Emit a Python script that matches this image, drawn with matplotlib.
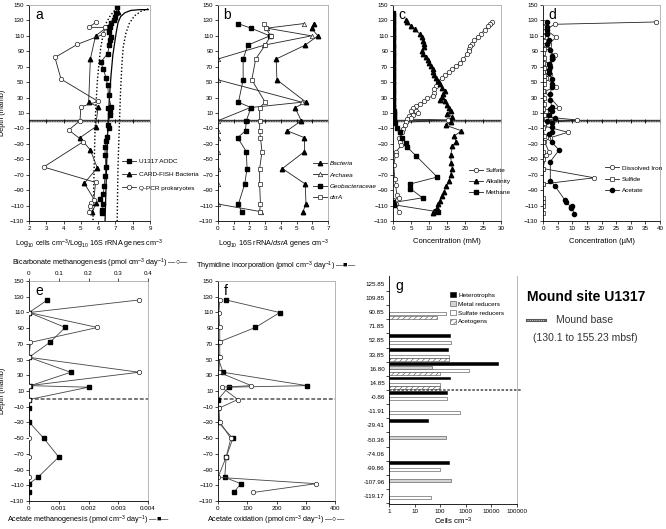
import numpy as np
import matplotlib
matplotlib.use("Agg")
import matplotlib.pyplot as plt
from matplotlib.lines import Line2D

plt.rcParams['font.family'] = ['Liberation Sans', 'DejaVu Sans']
plt.rcParams['mathtext.fontset'] = 'custom'
plt.rcParams['mathtext.rm'] = 'Liberation Sans'
plt.rcParams['mathtext.it'] = 'Liberation Sans:italic'
plt.rcParams['hatch.linewidth'] = 0.4

# ---- panel a : cell counts / 16S genes (log10) vs depth
aodc_x = [7.1, 7.05, 6.95, 6.9, 6.75, 6.7, 6.6, 6.75, 6.7, 6.65, 6.55, 6.15, 6.3, 6.45, 6.55, 6.6, 6.75,
          6.55, 6.7, 6.7, 6.55, 6.6, 6.5, 6.45, 6.4, 6.4, 6.45, 6.4, 6.35, 6.3, 6.1, 6.3, 6.25, 6.2]
aodc_d = [147, 139, 134, 131, 127, 122, 115, 109, 104, 98, 87, 76, 67, 56, 46, 33, 18,
          17, 11, 7, -5, -10, -21, -26, -34, -45, -60, -72, -84, -95, -101, -108, -116, -120]
fish_x = [7.15, 6.95, 6.5, 5.85, 5.55, 5.45, 6.0, 5.85, 4.95, 5.55, 5.95, 5.2, 5.9, 5.65]
fish_d = [141, 134, 121, 110, 80, 24, 18, -8, -22, -38, -61, -81, -107, -118]
qpcr_x = [5.9, 5.45, 6.4, 6.3, 4.8, 3.5, 3.85, 6.0, 5.0, 4.95, 4.3, 5.15, 2.85, 5.85, 5.75, 5.6, 5.55, 5.45]
qpcr_d = [128, 121, 121, 112, 99, 82, 54, 25, 18, 0, -12, -27, -60, -80, -103, -107, -110, -118]
reg_x = [8.9, 8.4, 7.9, 7.55, 7.3, 7.15, 7.05, 6.95, 6.85, 6.75, 6.65, 6.55, 6.5, 6.45, 6.4]
reg_d = [144, 144, 143, 140, 135, 127, 115, 100, 85, 60, 30, -15, -50, -90, -130]
low_x = [7.1, 6.95, 6.7, 6.45, 6.3, 6.15, 6.05, 5.95, 5.85, 5.8, 5.75, 5.7]
low_d = [146, 143, 136, 126, 113, 95, 75, 50, 10, -30, -80, -130]
upp_x = [8.9, 8.5, 8.1, 7.8, 7.6, 7.45, 7.38, 7.3, 7.22, 7.15, 7.1]
upp_d = [145, 142, 136, 126, 113, 95, 75, 40, -10, -60, -130]

# ---- panel b : 16S rRNA / dsrA genes
b_d = [126, 120, 110, 98, 80, 53, 24, 17, 0, -13, -22, -40, -62, -82, -108, -118]
bac_x = [6.1, 5.95, 6.35, 5.55, 3.7, 3.75, 5.6, 4.9, 5.3, 4.4, 5.5, 5.5, 4.1, 5.55, 5.6, 5.4]
arc_x = [5.5, 3.1, 5.95, 2.95, 0, 0, 5.35, 2.05, 0, 0, 0, 0, 0, 0, 0, 2.75]
geo_x = [1.25, 2.1, 3.3, 1.9, 1.6, 1.6, 1.3, 2.1, 1.8, 1.75, 1.25, 1.8, 1.85, 1.7, 1.3, 1.5]
dsr_x = [2.95, 3.05, 3.35, 3.0, 2.4, 2.15, 3.0, 2.65, 2.65, 2.65, 2.7, 2.8, 2.65, 2.65, 2.7, 2.65]

# ---- panel c : porewater (mM)
sulf_x = [27.5, 27, 26.5, 25.5, 24.5, 23.5, 22.5, 22, 21.5, 21, 21, 20.5, 19.5, 18.5, 17.5, 16.5, 15.5,
          14.5, 13.5, 12.5, 12, 11.5, 11.5, 11, 9.5, 8.5, 7.5, 6.5, 5.5, 5, 6.5, 7, 5.5, 4.5, 5, 4,
          15.3, 3.5, 3.3, 2.8, 2.5, 1.6, 1.9, 2.3, 0.9, 0.7, 0.2, 0.5, 0.7, 1.1, 1.6, 0.0, 0.7, 1.6]
sulf_d = [128, 126, 123, 118, 113, 108, 104, 100, 97, 93, 90, 86, 80, 75, 71, 67, 63,
          59, 55, 50, 45, 41, 36, 32, 29, 25, 22, 19, 16, 13, 12, 10, 8, 6, 4, 2,
          1, -2, -5, -11, -15, -23, -27, -32, -40, -44, -58, -75, -83, -96, -100, -103, -108, -118]
alk_x = [3.5, 4.0, 5.0, 6.0, 7.5, 8.0, 8.3, 8.5, 8.5, 8.0, 8.3, 9.2, 9.8, 10.0, 10.5, 11.0, 11.2,
         11.5, 12.0, 12.5, 13.0, 13.5, 14.5, 14.0, 13.5, 13.0, 14.5, 15.0, 15.5, 16.0, 15.0, 16.5,
         16.0, 14.7, 19.0, 17.0, 17.5, 16.5, 16.0, 16.2, 16.5, 16.0, 15.5, 14.8, 14.2, 13.5, 13.0,
         12.5, 12.2, 11.5, 11.0]
alk_d = [130, 128, 123, 119, 112, 108, 103, 99, 95, 91, 87, 83, 79, 75, 71, 67, 63,
         59, 55, 51, 47, 43, 39, 35, 31, 27, 25, 21, 17, 13, 9, 5,
         -2, -6, -13, -20, -27, -33, -45, -55, -62, -70, -78, -85, -92, -98, -104,
         -108, -113, -117, -119]
meth_x = [0.1, 0.05, 0.1, 0.1, 0.05, 0.1, 0.1, 0.05, 0.1, 0.1, 0.05, 0.1, 0.1, 0.1, 0.05, 0.1,
          0.1, 0.05, 0.1, 0.1, 0.05, 0.1, 0.1, 0.05, 0.1, 0.1, 0.05, 0.1, 0.1, 0.1, 0.05, 0.1,
          0.1, 0.05, 0.1, 0.1, 0.05, 0.1, 0.1, 0.05, 0.1, 0.1, 0.15, 0.2, 0.2, 0.25, 0.3,
          0.5, 1.2, 1.9, 2.6, 3.6, 3.9, 6.5, 12.3, 4.8, 4.8, 8.2, 0.1, 0.3, 12.4]
meth_d = [140, 137, 134, 131, 128, 125, 122, 119, 116, 113, 110, 107, 104, 100, 97, 94,
          91, 88, 85, 82, 79, 76, 73, 70, 67, 64, 61, 58, 55, 52, 49, 46,
          43, 40, 37, 34, 31, 28, 25, 22, 19, 16, 13, 10, 7, 4, 1,
          -3, -10, -15, -22, -29, -34, -46, -73, -82, -88, -100, -106, -109, -118]

# ---- panel d : porewater (uM)
iron_x = [38.5, 4, 1, 4.5, 2, 1, 4, 3.5, 2.5, 1.5, 2.5, 1, 4.5, 0.5, 5.5, 1, 0.5, 11.5, 3, 0.5,
          8.5, 2.5, 0.5, 2, 1, 0, 17.5, 0]
iron_d = [128, 125, 118, 108, 100, 95, 85, 81, 72, 65, 60, 55, 44, 38, 17, 12, 5, 1, -2, -7,
          -15, -22, -27, -40, -44, -62, -74, -82]
sulfide_x = [0, 0, 0, 0, 0.5, 2, 0.5, 0, 0.5, 0.5, 1.5, 0.5, 0, 0.5, 0.5, 0.5, 0, 0.5, 0.5, 0,
             0.5, 1, 0.5, 0, 0.5, 0, 0, 0, 0, 0, 0, 0, 0, 0]
sulfide_d = [128, 122, 116, 110, 103, 98, 93, 88, 81, 75, 73, 68, 63, 58, 53, 47, 38, 30, 22, 15,
             7, 2, -3, -10, -20, -28, -40, -50, -62, -82, -100, -105, -110, -120]
acet_x = [1.5, 1.5, 1.5, 1.5, 2, 1.5, 2.5, 3, 3.2, 2, 2.5, 2, 2, 3, 3, 3, 2.5, 2.5, 3, 2.5, 3, 2,
          4, 1.5, 3, 3, 3, 2, 3, 5.5, 2.5, 2.5, 4, 7.5, 8, 9.5, 9.5, 10, 10.5]
acet_d = [128, 122, 117, 113, 105, 100, 92, 84, 80, 74, 70, 66, 62, 54, 48, 44, 35, 27, 18, 15,
          13, 7, 3, 0, -3, -8, -14, -17, -28, -38, -53, -78, -84, -103, -105, -112, -113, -110, -121]

# ---- panels e and f : rates at sample depths
rate_d = [125.85, 109.85, 90.85, 71.85, 52.85, 33.85, 16.80, 14.85, -0.86, -11.91, -29.41,
          -50.36, -74.06, -99.86, -107.96, -119.17]
acmeth = [0.00062, 0.0, 0.00122, 0.0007, 0.0, 0.0014, 0.00005, 0.002, 0.0, 0.0, 0.0,
          0.0005, 0.001, 0.0003, 0.0, 0.0]
bicarb = [0.37, 0.0, 0.23, 0.005, 0.0, 0.37, 0.0, np.nan, 0.0, np.nan, np.nan,
          0.0, 0.0, 0.0, np.nan, np.nan]
thymid = [28, 211, 128, 0, 0, 17, 305, 36, 0, 0, 0, 51, 28, 23, 78, 54]
acox = [6, 3, 6, 6, 6, 3, 114, 12, 68, 3, 6, 44, 28, 0, 335, 120]

# ---- panel g : MPN cultures
g_cats = ['125.85', '109.85', '90.85', '71.85', '52.85', '33.85', '16.80', '14.85', '-0.86',
          '-11.91', '-29.41', '-50.36', '-74.06', '-99.86', '-107.96', '-119.17']
hetero = [np.nan, np.nan, np.nan, np.nan, 240, 210, 18000, 240, 180, np.nan, 32, np.nan, np.nan, 230, np.nan, np.nan]
metal = [np.nan, np.nan, np.nan, np.nan, np.nan, np.nan, 50, np.nan, np.nan, np.nan, np.nan, 170, np.nan, np.nan, 255, np.nan]
sulfred = [np.nan, np.nan, 170, np.nan, 255, 220, 1300, 100, 180, 620, np.nan, np.nan, np.nan, 95, np.nan, 45]
acetog = [np.nan, np.nan, 75, np.nan, np.nan, 220, 95, 100, np.nan, np.nan, np.nan, np.nan, np.nan, np.nan, np.nan, np.nan]

W, H = 666, 529
fig = plt.figure(figsize=(W / 100, H / 100), dpi=100)
LAB = 5.2
TICK = 4.5
LEG = 4.6


def panel(l, t, r, b):
    return fig.add_axes([l / W, 1 - b / H, (r - l) / W, (b - t) / H])


def style(ax, xlim, xticks, letter):
    ax.set_xlim(*xlim)
    ax.set_xticks(xticks)
    ax.set_ylim(-130, 150)
    ax.set_yticks(np.arange(-130, 151, 20))
    ax.tick_params(labelsize=TICK, length=2, width=0.5, pad=1.5)
    for s in ax.spines.values():
        s.set_linewidth(0.6)
    ax.spines['top'].set_color('#aaaaaa')
    ax.spines['right'].set_color('#aaaaaa')
    ax.text(0.05, 0.985, letter, transform=ax.transAxes, va='top', fontsize=10)


def mound(ax, ticks=True):
    ax.axhline(0, color='#3a3a3a', lw=1.7, zorder=1)
    ax.axhline(0, color='#bdbdbd', lw=0.6, ls=(0, (1, 1)), zorder=1.1)
    if ticks:
        xt = ax.get_xticks()
        ax.plot(xt, np.zeros(len(xt)), '|', color='k', ms=3, mew=0.6, zorder=1.2, clip_on=False)


ln = dict(color='#222222', lw=0.6)
leg_kw = dict(loc='upper left', frameon=False, handlelength=2.2, borderaxespad=0, handletextpad=0.4)

# ---------------- a
ax = panel(29, 5, 150, 221)
style(ax, (2, 9), range(2, 10), 'a')
mound(ax)
ax.plot(reg_x, reg_d, color='k', lw=0.9)
ax.plot(low_x, low_d, color='k', lw=1.0, ls=(0, (1, 1.5)))
ax.plot(upp_x, upp_d, color='k', lw=1.0, ls=(0, (1, 1.5)))
h1, = ax.plot(aodc_x, aodc_d, marker='s', ms=2.2, mfc='k', mec='k', **ln)
h2, = ax.plot(fish_x, fish_d, marker='^', ms=3.2, mfc='k', mec='k', **ln)
h3, = ax.plot(qpcr_x, qpcr_d, marker='o', ms=3.2, mfc='white', mec='#222222', mew=0.5, **ln)
ax.legend([h1, h2, h3], ['U1317 AODC', 'CARD-FISH Bacteria', 'Q-PCR prokaryotes'],
          bbox_to_anchor=(0.75, 0.30), fontsize=LEG, labelspacing=1.2, **leg_kw)
ax.set_xlabel('Log$_{10}$ cells cm$^{-3}$/Log$_{10}$ 16S rRNA genes cm$^{-3}$', fontsize=LAB, labelpad=5)
ax.set_ylabel('Depth (mamb)', fontsize=LAB, labelpad=3)

# ---------------- b
ax = panel(218, 5, 328, 221)
style(ax, (0, 7), range(0, 8), 'b')
mound(ax)
h1, = ax.plot(bac_x, b_d, marker='^', ms=3.2, mfc='k', mec='k', **ln)
h2, = ax.plot(arc_x, b_d, marker='^', ms=3.2, mfc='white', mec='#222222', mew=0.5, **ln)
h3, = ax.plot(geo_x, b_d, marker='s', ms=2.2, mfc='k', mec='k', **ln)
h4, = ax.plot(dsr_x, b_d, marker='s', ms=3.2, mfc='white', mec='#222222', mew=0.5, **ln)
ax.legend([h1, h2, h3, h4], ['Bacteria', 'Archaea', 'Geobacteraceae', 'dsrA'],
          bbox_to_anchor=(0.84, 0.29), prop={'size': LEG, 'style': 'italic'},
          labelspacing=0.9, **leg_kw)
ax.set_xlabel('Log$_{10}$ 16S rRNA/$dsrA$ genes cm$^{-3}$', fontsize=LAB, labelpad=5)

# ---------------- c
ax = panel(393, 5, 501, 221)
style(ax, (0, 30), range(0, 31, 5), 'c')
mound(ax)
h1, = ax.plot(sulf_x, sulf_d, marker='o', ms=3.2, mfc='white', mec='#222222', mew=0.5, **ln)
h2, = ax.plot(alk_x, alk_d, marker='^', ms=3.2, mfc='k', mec='k', **ln)
h3, = ax.plot(meth_x, meth_d, marker='s', ms=2.2, mfc='k', mec='k', **ln)
ax.legend([h1, h2, h3], ['Sulfate', 'Alkalinity', 'Methane'],
          bbox_to_anchor=(0.68, 0.26), fontsize=LEG, labelspacing=0.9, **leg_kw)
ax.set_xlabel('Concentration (mM)', fontsize=LAB + 0.3, labelpad=5)

# ---------------- d
ax = panel(543, 5, 660, 221)
style(ax, (0, 40), range(0, 41, 5), 'd')
mound(ax)
h1, = ax.plot(iron_x, iron_d, marker='o', ms=3.2, mfc='white', mec='#222222', mew=0.5, **ln)
h2, = ax.plot(sulfide_x, sulfide_d, marker='s', ms=3.2, mfc='white', mec='#222222', mew=0.5, **ln)
h3, = ax.plot(acet_x, acet_d, marker='o', ms=3.0, mfc='k', mec='k', **ln)
ax.legend([h1, h2, h3], ['Dissolved Iron', 'Sulfide', 'Acetate'],
          bbox_to_anchor=(0.51, 0.27), fontsize=LEG, labelspacing=0.9, **leg_kw)
ax.set_xlabel('Concentration (\u00b5M)', fontsize=LAB + 0.3, labelpad=5)

# ---------------- e
ax = panel(29, 281, 148, 501)
style(ax, (0, 0.004), [0, 0.001, 0.002, 0.003, 0.004], 'e')
ax.set_xticklabels(['0', '0.001', '0.002', '0.003', '0.004'])
ax.axhline(0, color='#777777', lw=1.4, ls=(0, (2, 1)), zorder=1)
ax.plot(acmeth, rate_d, marker='s', ms=2.4, mfc='k', mec='k', color='#444444', lw=0.6)
ax.set_xlabel('Acetate methanogenesis (pmol cm$^{-3}$ day$^{-1}$) \u2014\u25a0\u2014', fontsize=LAB, labelpad=2)
ax.set_ylabel('Depth (mamb)', fontsize=LAB, labelpad=3)
axt = ax.twiny()
axt.set_xlim(0, 0.4)
axt.set_xticks([0, 0.1, 0.2, 0.3, 0.4])
axt.set_xticklabels(['0', '0.1', '0.2', '0.3', '0.4'])
axt.tick_params(labelsize=TICK, length=2, width=0.5, pad=1.5)
for s in axt.spines.values():
    s.set_visible(False)
axt.plot(bicarb, rate_d, marker='o', ms=3.2, mfc='white', mec='#222222', mew=0.5, color='#444444', lw=0.6)
axt.set_xlabel('Bicarbonate methanogenesis (pmol cm$^{-3}$ day$^{-1}$) \u2014\u25cb\u2014', fontsize=LAB, labelpad=4)
axt.xaxis.label.set_x(0.6)

# ---------------- f
ax = panel(218, 281, 335, 501)
style(ax, (0, 400), [0, 100, 200, 300, 400], 'f')
ax.axhline(0, color='#777777', lw=1.4, ls=(0, (2, 1)), zorder=1)
ax.plot(thymid, rate_d, marker='s', ms=2.4, mfc='k', mec='k', color='#444444', lw=0.6)
ax.plot(acox, rate_d, marker='o', ms=3.2, mfc='white', mec='#222222', mew=0.5, color='#444444', lw=0.6)
ax.set_xlabel('Acetate oxidation (pmol cm$^{-3}$ day$^{-1}$) \u2014\u25cb\u2014', fontsize=LAB, labelpad=2)
axt = ax.twiny()
axt.set_xticks([])
for s in axt.spines.values():
    s.set_visible(False)
axt.set_xlabel('Thymidine incorporation (pmol cm$^{-3}$ day$^{-1}$) \u2014\u25a0\u2014', fontsize=LAB, labelpad=9)

# ---------------- g
ax = panel(389, 276, 517, 504)
ax.set_xscale('log')
ypos = np.arange(len(g_cats))
slot = 0.235
series = [(hetero, dict(color='k', edgecolor='k'), 'Heterotrophs', -1.5),
          (metal, dict(color='#d4d4d4', edgecolor='#444444'), 'Metal reducers', -0.5),
          (sulfred, dict(color='white', edgecolor='#444444'), 'Sulfate reducers', 0.5),
          (acetog, dict(color='white', edgecolor='#444444', hatch='//////'), 'Acetogens', 1.5)]
for vals, kw, lab, off in series:
    v = np.array(vals, dtype=float)
    ok = np.isfinite(v)
    ax.barh(ypos[ok] + off * slot, v[ok] - 1, left=1, height=0.2, lw=0.4, label=lab, **kw)
ax.set_xlim(1, 100000)
ax.set_ylim(len(g_cats) - 0.45, -0.55)
ax.set_yticks(ypos)
ax.set_yticklabels(g_cats)
ax.set_yticks(ypos + 0.5, minor=True)
ax.set_xticks([1, 10, 100, 1000, 10000, 100000])
ax.set_xticklabels(['1', '10', '100', '1000', '10000', '100000'])
ax.xaxis.set_minor_locator(matplotlib.ticker.NullLocator())
ax.tick_params(axis='y', which='major', length=0, labelsize=TICK, pad=3)
ax.tick_params(axis='y', which='minor', length=2, width=0.5)
ax.tick_params(axis='x', labelsize=TICK, length=2, width=0.5, pad=1.5)
ax.spines['top'].set_visible(False)
ax.spines['right'].set_color('#aaaaaa')
for s in ax.spines.values():
    s.set_linewidth(0.6)
ax.plot([0, 1.03], [7.5, 7.5], transform=ax.get_yaxis_transform(), color='#555555', lw=1.2,
        ls=(0, (1.5, 1)), clip_on=False)
ax.legend(loc='upper left', bbox_to_anchor=(0.46, 0.94), frameon=False, fontsize=LEG,
          handlelength=0.8, handleheight=0.8, labelspacing=0.5, borderaxespad=0, handletextpad=0.4)
ax.text(0.05, 0.985, 'g', transform=ax.transAxes, va='top', fontsize=10)
ax.set_xlabel('Cells cm$^{-3}$', fontsize=LAB + 0.5, labelpad=1)

# ---------------- site text
fig.text(586 / W, 1 - 297 / H, 'Mound site U1317', fontsize=10, fontweight='bold', ha='center', va='center')
fig.add_artist(Line2D([527 / W, 545 / W], [1 - 320 / H] * 2, color='#555555', lw=2.2))
fig.add_artist(Line2D([527 / W, 545 / W], [1 - 320 / H] * 2, color='#cccccc', lw=0.8, ls=(0, (1, 1))))
fig.text(585 / W, 1 - 320 / H, 'Mound base', fontsize=7.5, ha='center', va='center', color='#333333')
fig.text(585 / W, 1 - 338 / H, '(130.1 to 155.23 mbsf)', fontsize=7.5, ha='center', va='center', color='#333333')

fig.savefig('out.png', dpi=100)
